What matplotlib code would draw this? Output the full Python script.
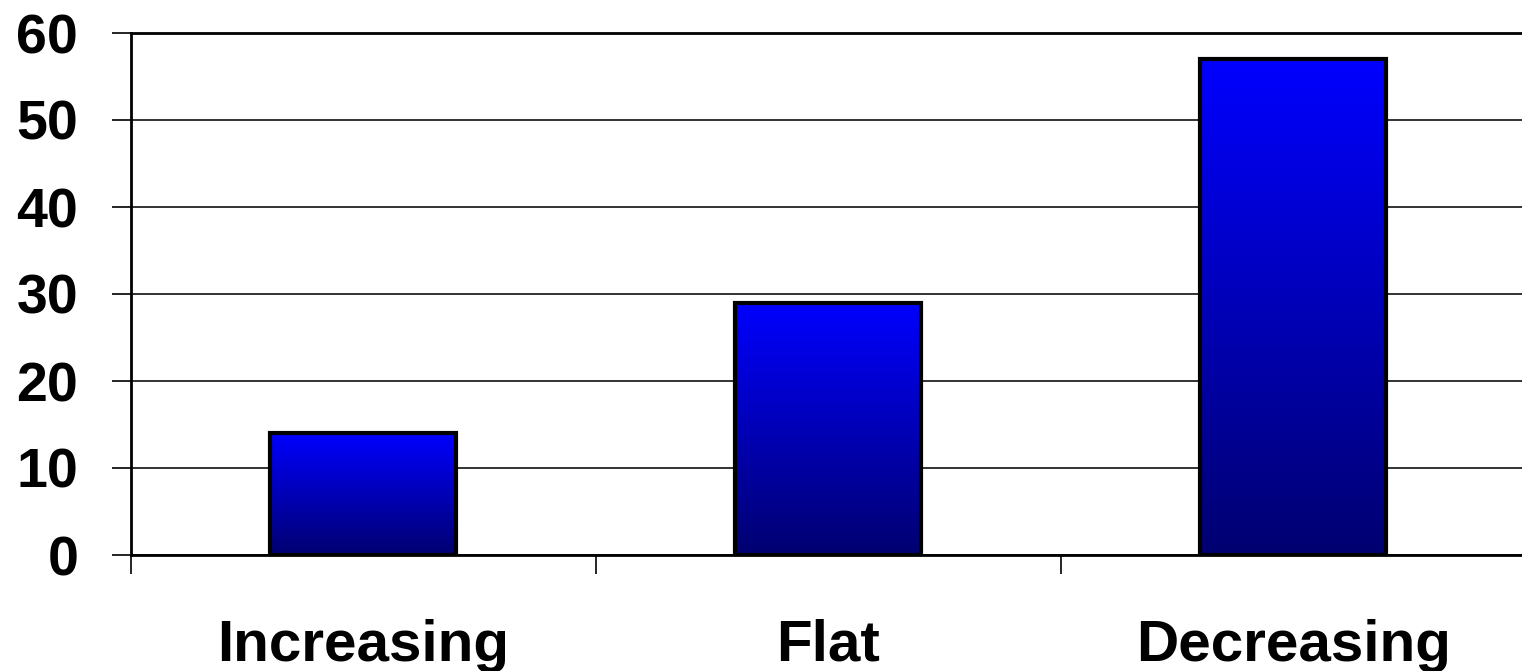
import matplotlib
matplotlib.use("Agg")
import matplotlib.pyplot as plt
import numpy as np
from matplotlib.colors import LinearSegmentedColormap

# data
categories = ["Increasing", "Flat", "Decreasing"]
values = [14, 29, 57]
y_ticks = [0, 10, 20, 30, 40, 50, 60]

plt.rcParams["font.family"] = ["Liberation Sans", "DejaVu Sans"]

fig = plt.figure(figsize=(15.22, 6.71), dpi=100)
ax = fig.add_axes([131 / 1522, 1 - 555 / 671, 1395 / 1522, 522 / 671])

# gradient from navy at bottom to bright blue at top
cmap = LinearSegmentedColormap.from_list("blu", ["#000070", "#0000ff"])
grad = np.linspace(0, 1, 256).reshape(-1, 1)

x = np.arange(len(categories))
bars = ax.bar(x, values, width=0.4, facecolor="none", edgecolor="black",
              linewidth=3, zorder=3)
for b in bars:
    x0, y0 = b.get_x(), b.get_y()
    w, h = b.get_width(), b.get_height()
    im = ax.imshow(grad, cmap=cmap, origin="lower", aspect="auto",
                   extent=[x0, x0 + w, y0, y0 + h], zorder=2)
    im.set_clip_path(b)

ax.set_xlim(-0.5, 2.5)
ax.set_ylim(0, 60)

ax.set_yticks(y_ticks)
ax.yaxis.grid(True, color="#222222", linewidth=1.3, zorder=0)
ax.set_axisbelow(True)

ax.set_xticks(x)
ax.set_xticklabels(categories, fontsize=42, fontweight="bold")
ax.tick_params(axis="x", length=0, pad=46)
ax.set_xticks([-0.5, 0.5, 1.5, 2.5], minor=True)
ax.tick_params(axis="x", which="minor", length=14, width=1.2, direction="out")

ax.set_yticklabels([str(v) for v in y_ticks], fontsize=40, fontweight="bold")
ax.tick_params(axis="y", length=14, width=1.2, pad=24)

ax.spines["right"].set_visible(False)
ax.spines["top"].set_linewidth(2)
ax.spines["left"].set_linewidth(2)
ax.spines["bottom"].set_linewidth(2)

fig.savefig("out.png", dpi=100)
